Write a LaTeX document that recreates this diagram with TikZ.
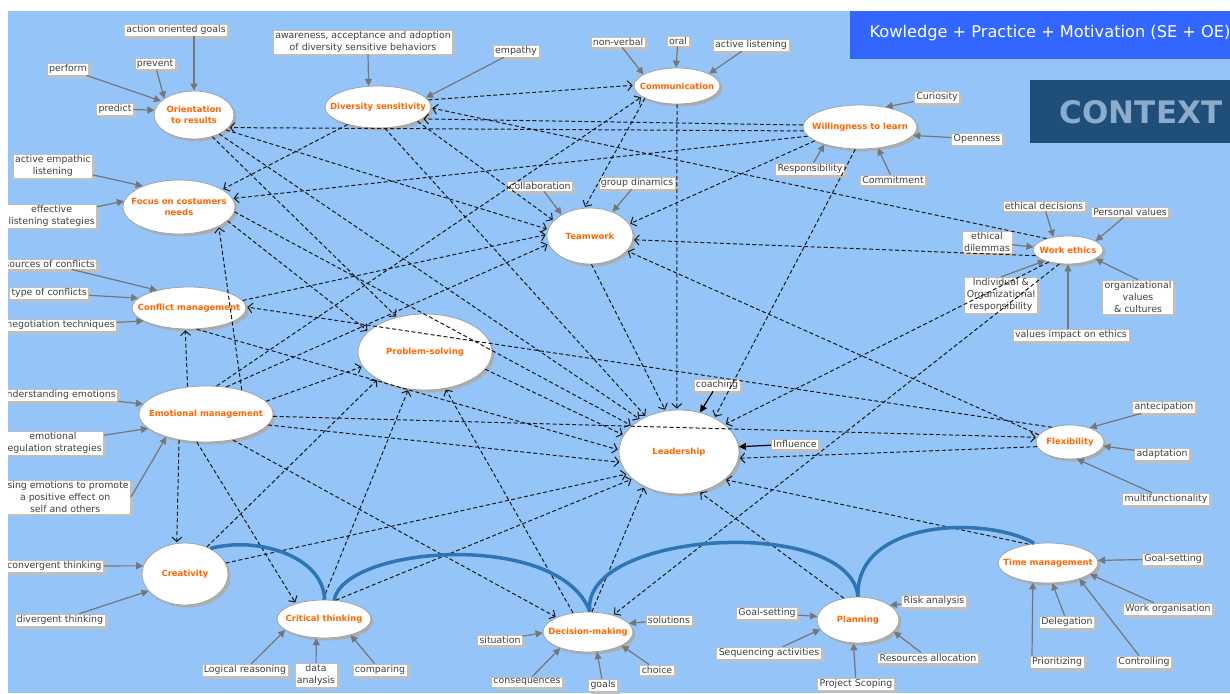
\documentclass[tikz,border=0pt]{standalone}
\usepackage{fontspec}
\setmainfont{DejaVu Sans}
\usetikzlibrary{shapes.geometric,arrows.meta,shadows}
\definecolor{bgblue}{RGB}{148,196,248}
\definecolor{hdblue}{RGB}{51,102,255}
\definecolor{ctxblue}{RGB}{31,78,121}
\definecolor{ctxtext}{RGB}{139,172,205}
\definecolor{skill}{RGB}{255,102,0}
\definecolor{arcblue}{RGB}{46,117,182}
\definecolor{tipgray}{RGB}{118,118,118}
\definecolor{rimgray}{RGB}{150,165,175}

\begin{document}
\begin{tikzpicture}[x=1pt,y=-1pt,
  ell/.style={ellipse, inner sep=0pt, fill=white, draw=rimgray, line width=0.8pt,
    drop shadow={shadow xshift=2.5pt, shadow yshift=-2.5pt, fill=black!32, opacity=1}},
  etxt/.style={text=skill, font=\bfseries\fontsize{8.5}{10.5}\selectfont, align=center},
  lbl/.style={rectangle, fill=white, draw=gray!50, line width=0.6pt, inner xsep=2pt, inner ysep=1.5pt,
    text=black!75, font=\fontsize{9.4}{11.8}\selectfont, align=center,
    drop shadow={shadow xshift=2.5pt, shadow yshift=-2.5pt, fill=black!25, opacity=1}},
  feed/.style={draw=tipgray, line width=1.2pt, -{Triangle[length=7pt,width=7pt]}},
  push/.style={draw=black, line width=1.2pt, -{Triangle[length=7pt,width=7pt]}},
  dep/.style={draw=black!90, line width=1pt, dash pattern=on 4pt off 2.5pt,
    -{Straight Barb[length=4.5pt,width=10pt]}, shorten >=1pt},
  arcline/.style={draw=arcblue, line width=3.5pt}]

\useasboundingbox (0,0) rectangle (1230,693);
\fill[white] (0,0) rectangle (1230,693);
\begin{scope}
\clip (8,11) rectangle (1230,693);
\fill[bgblue] (8,11) rectangle (1230,693);
\fill[hdblue] (850,11) rectangle (1240,59);
\node[anchor=west, text=white, font=\fontsize{16.2}{18}\selectfont] (hdr) at (866,33) {Kowledge + Practice + Motivation (SE + OE)};
\fill[ctxblue] (1030,80) rectangle (1240,143);
\node[text=ctxtext, font=\bfseries\fontsize{31}{34}\selectfont] (ctx) at (1141,112) {CONTEXT};

\node[ell, minimum width=80pt, minimum height=48pt, label={[etxt]center:{Orientation\\to results}}] (orient) at (194,115) {};
\node[ell, minimum width=106pt, minimum height=42pt, label={[etxt]center:{Diversity sensitivity}}] (divers) at (378,107) {};
\node[ell, minimum width=86pt, minimum height=36pt, label={[etxt]center:{Communication}}] (comm) at (677,86) {};
\node[ell, minimum width=114pt, minimum height=44pt, label={[etxt]center:{Willingness to learn}}] (will) at (860,127) {};
\node[ell, minimum width=112pt, minimum height=54pt, label={[etxt]center:{Focus on costumers\\needs}}] (focus) at (179,207) {};
\node[ell, minimum width=86pt, minimum height=56pt, label={[etxt]center:{Teamwork}}] (team) at (590,236) {};
\node[ell, minimum width=70pt, minimum height=28pt, label={[etxt]center:{Work ethics}}] (ethics) at (1068,250) {};
\node[ell, minimum width=114pt, minimum height=42pt, label={[etxt]center:{Conflict management}}] (conf) at (189,308) {};
\node[ell, minimum width=134pt, minimum height=76pt, label={[etxt]center:{Problem-solving}}] (prob) at (425,352) {};
\node[ell, minimum width=134pt, minimum height=56pt, label={[etxt]center:{Emotional management}}] (emot) at (206,414) {};
\node[ell, minimum width=120pt, minimum height=84pt, label={[etxt]center:{Leadership}}] (lead) at (679,452) {};
\node[ell, minimum width=68pt, minimum height=34pt, label={[etxt]center:{Flexibility}}] (flex) at (1070,442) {};
\node[ell, minimum width=86pt, minimum height=62pt, label={[etxt]center:{Creativity}}] (creat) at (185,574) {};
\node[ell, minimum width=94pt, minimum height=38pt, label={[etxt]center:{Critical thinking}}] (crit) at (324,619) {};
\node[ell, minimum width=90pt, minimum height=40pt, label={[etxt]center:{Decision-making}}] (dec) at (588,632) {};
\node[ell, minimum width=82pt, minimum height=46pt, label={[etxt]center:{Planning}}] (plan) at (858,620) {};
\node[ell, minimum width=100pt, minimum height=40pt, label={[etxt]center:{Time management}}] (time) at (1048,563) {};

\node[lbl] (l_goals) at (176,30) {action oriented goals};
\node[lbl] (l_prev) at (155,64) {prevent};
\node[lbl] (l_perf) at (68,69) {perform};
\node[lbl] (l_pred) at (115,109) {predict};
\node[lbl] (l_aware) at (363,42) {awareness, acceptance and adoption\\of diversity sensitive behaviors};
\node[lbl] (l_empa) at (516,51) {empathy};
\node[lbl] (l_nonv) at (618,42) {non-verbal};
\node[lbl] (l_oral) at (678,41) {oral};
\node[lbl] (l_actl) at (751,45) {active listening};
\node[lbl] (l_curi) at (937,97) {Curiosity};
\node[lbl] (l_open) at (977,139) {Openness};
\node[lbl] (l_commit) at (893,180) {Commitment};
\node[lbl] (l_resp) at (810,169) {Responsibility};
\node[lbl, anchor=east] (l_aelis) at (93,166) {active empathic\\listening};
\node[lbl, anchor=east] (l_efflis) at (97,216) {effective\\listening stategies};
\node[lbl] (l_colla) at (540,186) {collaboration};
\node[lbl] (l_group) at (637,183) {group dinamics};
\node[lbl] (l_ethdec) at (1044,206) {ethical decisions};
\node[lbl] (l_persv) at (1130,212) {Personal values};
\node[lbl] (l_ethdil) at (987,242) {ethical\\dilemmas};
\node[lbl] (l_indiv) at (1001,295) {Individual \&\\Organizational\\responsibility};
\node[lbl] (l_orgv) at (1138,297) {organizational\\values\\\& cultures};
\node[lbl] (l_valimp) at (1071,335) {values impact on ethics};
\node[lbl, anchor=east] (l_srcc) at (97,264) {sources of conflicts};
\node[lbl, anchor=east] (l_typec) at (89,293) {type of conflicts};
\node[lbl, anchor=east] (l_nego) at (117,325) {negotiation techniques};
\node[lbl, anchor=east] (l_under) at (118,395) {understanding emotions};
\node[lbl, anchor=east] (l_regul) at (104,443) {emotional\\regulation strategies};
\node[lbl, anchor=east] (l_using) at (131,497) {using emotions to promote\\a positive effect on\\self and others};
\node[lbl] (l_coach) at (717,385) {coaching};
\node[lbl] (l_infl) at (795,444) {Influence};
\node[lbl] (l_antec) at (1164,407) {antecipation};
\node[lbl] (l_adapt) at (1162,454) {adaptation};
\node[lbl] (l_multi) at (1166,499) {multifunctionality};
\node[lbl, anchor=east] (l_conv) at (104,566) {convergent thinking};
\node[lbl] (l_div) at (60,620) {divergent thinking};
\node[lbl] (l_logic) at (245,670) {Logical reasoning};
\node[lbl] (l_data) at (316,675) {data\\analysis};
\node[lbl] (l_compa) at (380,670) {comparing};
\node[lbl] (l_situ) at (500,640) {situation};
\node[lbl] (l_solu) at (669,620) {solutions};
\node[lbl] (l_cons) at (527,682) {consequences};
\node[lbl] (l_goal2) at (603,685) {goals};
\node[lbl] (l_choi) at (657,670) {choice};
\node[lbl] (l_pgoal) at (767,613) {Goal-setting};
\node[lbl] (l_seq) at (769,653) {Sequencing activities};
\node[lbl] (l_scope) at (856,684) {Project Scoping};
\node[lbl] (l_risk) at (934,601) {Risk analysis};
\node[lbl] (l_reso) at (928,658) {Resources allocation};
\node[lbl] (l_tgoal) at (1173,559) {Goal-setting};
\node[lbl] (l_worko) at (1168,609) {Work organisation};
\node[lbl] (l_deleg) at (1067,622) {Delegation};
\node[lbl] (l_prio) at (1057,662) {Prioritizing};
\node[lbl] (l_ctrl) at (1144,662) {Controlling};

\draw[feed] (l_goals.south -| orient.north) -- (orient.north);
\draw[feed] (l_prev) -- (orient.151);
\draw[feed] (l_perf) -- (orient.157);
\draw[feed] (l_pred) -- (orient.173);
\draw[feed] ([xshift=5pt]l_aware.south) -- (divers.114);
\draw[feed] (l_empa) -- (divers.11);
\draw[feed] (l_nonv) -- (comm.161);
\draw[feed] (l_oral) -- (comm.93);
\draw[feed] (l_actl) -- (comm.21);
\draw[feed] (l_curi) -- (will.38);
\draw[feed] (l_open) -- (will.-9);
\draw[feed] (l_commit) -- (will.-50);
\draw[feed] (l_resp) -- (will.206);
\draw[feed] (l_aelis) -- (focus.150);
\draw[feed] (l_efflis) -- (focus.174);
\draw[feed] (l_colla) -- (team.143);
\draw[feed] (l_group) -- (team.47);
\draw[feed] (l_ethdec) -- (ethics.138);
\draw[feed] (l_persv) -- (ethics.18);
\draw[feed] (l_ethdil) -- (ethics.175);
\draw[feed] (l_indiv.north) -- (ethics.205);
\draw[feed] (l_orgv.north) -- (ethics.-18);
\draw[feed] (l_valimp.north -| ethics.south) -- (ethics.south);
\draw[feed] (l_srcc) -- (conf.151);
\draw[feed] (l_typec) -- (conf.169);
\draw[feed] (l_nego) -- (conf.196);
\draw[feed] (l_under) -- (emot.171);
\draw[feed] (l_regul) -- (emot.194);
\draw[feed] (l_using.east) -- (emot.210);
\draw[push] (l_coach) -- (lead.62);
\draw[push] (l_infl) -- (lead.5);
\draw[feed] (l_antec) -- (flex.36);
\draw[feed] (l_adapt) -- (flex.-7);
\draw[feed] (l_multi) -- (flex.-68);
\draw[feed] (l_conv) -- (creat.169);
\draw[feed] (l_div) -- (creat.205);
\draw[feed] (l_logic) -- (crit.196);
\draw[feed] (l_data) -- (crit.248);
\draw[feed] (l_compa) -- (crit.-31);
\draw[feed] (l_situ) -- (dec.181);
\draw[feed] (l_solu) -- (dec.12);
\draw[feed] (l_cons) -- (dec.210);
\draw[feed] (l_goal2) -- (dec.-66);
\draw[feed] (l_choi) -- (dec.-22);
\draw[feed] (l_pgoal) -- (plan.175);
\draw[feed] (l_seq) -- (plan.194);
\draw[feed] (l_scope) -- (plan.259);
\draw[feed] (l_risk) -- (plan.25);
\draw[feed] (l_reso) -- (plan.-18);
\draw[feed] (l_tgoal) -- (time.3);
\draw[feed] (l_worko) -- (time.-15);
\draw[feed] (l_deleg) -- (time.-78);
\draw[feed] ([xshift=-25pt]l_prio.north) -- (time.232);
\draw[feed] (l_ctrl) -- (time.-27);

\draw[dep] (will.184) -- (orient.-20);
\draw[dep] (will.178) -- (divers.-15);
\draw[dep] (will.190) -- (focus.9);
\draw[dep] (will.197) -- (team.17);
\draw[dep] (will.258) -- (lead.44);
\draw[dep] (divers.8) -- (comm.179);
\draw[dep] (ethics.152) -- (divers.-1);
\draw[dep] (comm.201) -- (team.101);
\draw[dep] (comm.270) -- (lead.93);
\draw[dep] (emot.69) -- (comm.197);
\draw[dep] (emot.53) -- (team.191);
\draw[dep] (divers.-20) -- (team.157);
\draw[dep] (orient.-25) -- (team.171);
\draw[dep] (orient.-37) -- (lead.140);
\draw[dep] (orient.-50) -- (prob.129);
\draw[dep] (conf.8) -- (team.178);
\draw[dep] (ethics.190) -- (team.-5);
\draw[dep] (flex.167) -- (team.-22);
\draw[dep] (team.-87) -- (lead.108);
\draw[dep] (divers.-72) -- (lead.133);
\draw[dep] (focus.-16) -- (prob.160);
\draw[dep] (focus.-5) -- (lead.151);
\draw[dep] (divers.210) -- (focus.22);
\draw[dep] (emot.34) -- (focus.-26);
\draw[dep] (emot.124) -- (conf.260);
\draw[dep] (flex.141) -- (conf.1);
\draw[dep] (conf.-70) -- (lead.178);
\draw[dep] (emot.-10) -- (lead.190);
\draw[dep] (emot.-2) -- (flex.172);
\draw[dep] (emot.12) -- (prob.193);
\draw[dep] (prob.-16) -- (lead.163);
\draw[dep] (creat.15) -- (lead.203);
\draw[dep] (crit.58) -- (lead.210);
\draw[dep] (crit.93) -- (prob.246);
\draw[dep] (creat.51) -- (prob.210);
\draw[dep] (emot.224) -- (creat.105);
\draw[dep] (emot.252) -- (crit.151);
\draw[dep] (emot.-44) -- (dec.155);
\draw[dep] (dec.128) -- (prob.-61);
\draw[dep] (dec.79) -- (lead.225);
\draw[dep] (ethics.238) -- (dec.34);
\draw[dep] (ethics.212) -- (lead.31);
\draw[dep] (flex.188) -- (lead.-6);
\draw[dep] (time.136) -- (lead.-31);
\draw[dep] (plan.123) -- (lead.-63);

\draw[arcline] (creat.45) .. controls (255,536) and (323,555) .. (crit.88);
\draw[arcline] (crit.62) .. controls (345,545) and (560,530) .. (dec.85);
\draw[arcline] (dec.85) .. controls (580,530) and (850,515) .. (plan.90);
\draw[arcline] (plan.90) .. controls (855,520) and (985,515) .. (time.125);
\end{scope}
\end{tikzpicture}
\end{document}
